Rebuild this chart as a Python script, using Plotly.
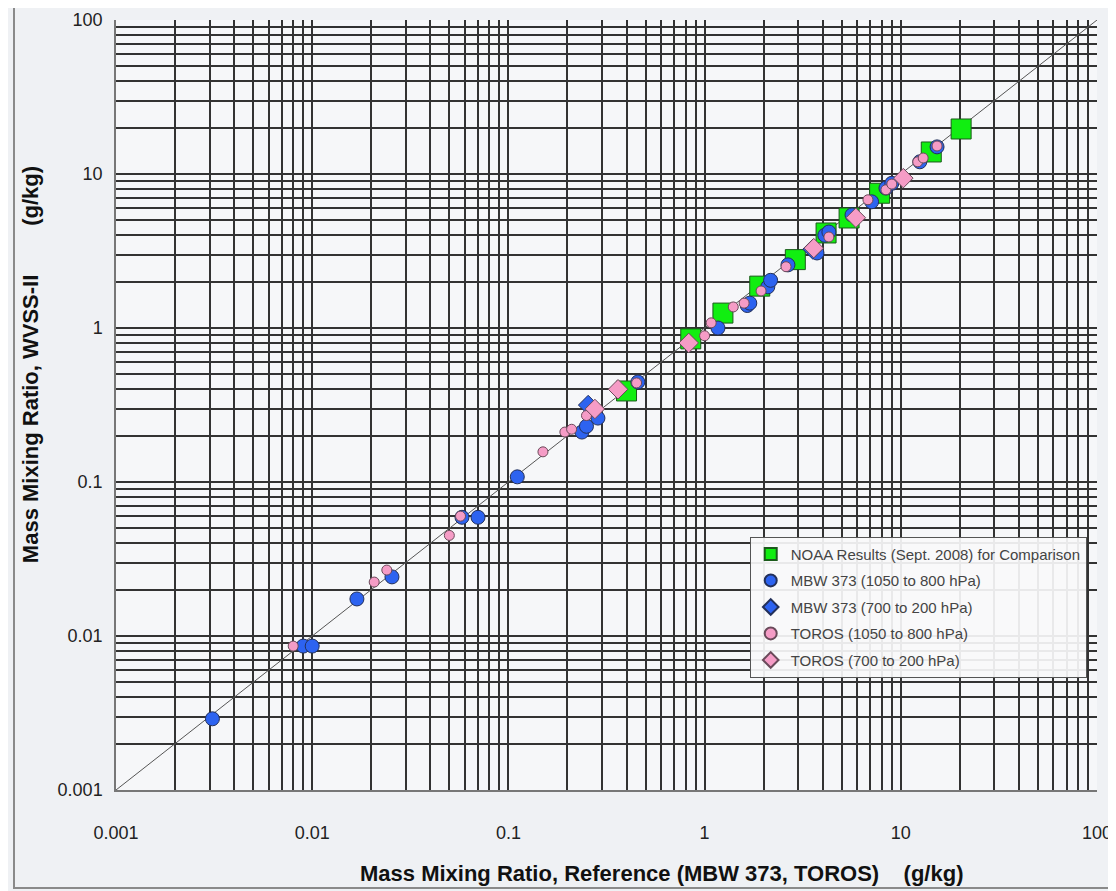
import plotly.graph_objects as go

# ---------------- data ----------------
noaa_x = [0.40, 0.85, 1.24, 1.91, 2.9, 4.16, 5.45, 7.8, 14.3, 20.3]
noaa_y = [0.39, 0.85, 1.25, 1.87, 2.78, 4.14, 5.18, 7.5, 13.9, 19.6]

mbw_low_x = [0.0031, 0.0090, 0.0100, 0.0169, 0.0255, 0.058, 0.070, 0.111, 0.237, 0.25, 0.286,
             0.457, 1.17, 1.65, 1.70, 2.10, 2.17, 2.66, 3.6, 3.74, 4.1, 4.3, 5.64, 7.1, 8.4, 9.0,
             12.5, 15.3]
mbw_low_y = [0.0029, 0.0086, 0.0086, 0.0174, 0.0242, 0.059, 0.059, 0.108, 0.211, 0.23, 0.26,
             0.446, 1.0, 1.40, 1.45, 1.85, 2.04, 2.57, 3.2, 3.07, 4.0, 4.2, 5.42, 6.6, 8.1, 8.7,
             12.0, 15.0]

mbw_high_x = [0.255, 3.55]
mbw_high_y = [0.316, 3.25]

toros_low_x = [0.0080, 0.0207, 0.024, 0.050, 0.057, 0.150, 0.194, 0.21, 0.25, 0.45, 1.0, 1.08,
               1.40, 1.59, 1.94, 2.6, 4.3, 6.8, 8.4, 9.0, 12.2, 13.0, 15.3]
toros_low_y = [0.0086, 0.0224, 0.0268, 0.045, 0.060, 0.157, 0.211, 0.22, 0.27, 0.44, 0.89, 1.08,
               1.37, 1.45, 1.74, 2.5, 3.9, 6.8, 7.9, 8.6, 12.0, 12.7, 15.2]

toros_high_x = [0.276, 0.362, 0.83, 3.6, 5.9, 10.3]
toros_high_y = [0.298, 0.40, 0.80, 3.3, 5.2, 9.4]

one_to_one = [0.001, 100]

decades = [-3, -2, -1, 0, 1]
decade_labels = ["0.001", "0.01", "0.1", "1", "10", "100"]

series_names = [
    "NOAA Results (Sept. 2008) for Comparison",
    "MBW 373 (1050 to 800 hPa)",
    "MBW 373 (700 to 200 hPa)",
    "TOROS (1050 to 800 hPa)",
    "TOROS (700 to 200 hPa)",
]

# ---------------- ticks / grid ----------------
tickvals, ticktext = [], []
for i, n in enumerate(decades):
    for k in range(1, 10):
        tickvals.append(k * 10 ** n)
        ticktext.append(decade_labels[i] if k == 1 else "")
tickvals.append(100)
ticktext.append(decade_labels[-1])

fig = go.Figure()

fig.add_trace(go.Scatter(x=one_to_one, y=one_to_one, mode="lines",
                         line=dict(color="#555555", width=1), showlegend=False,
                         hoverinfo="skip"))

blue = "#2d63f0"
pink = "#f59cc6"
green = "#11ee11"
edge = "#23305a"

fig.add_trace(go.Scatter(x=noaa_x, y=noaa_y, mode="markers", name=series_names[0],
                         legendgroup="g0",
                         marker=dict(symbol="square", size=20, color=green,
                                     line=dict(color="#1b5a1b", width=1))))
fig.add_trace(go.Scatter(x=mbw_low_x, y=mbw_low_y, mode="markers", name=series_names[1],
                         legendgroup="g1",
                         marker=dict(symbol="circle", size=14, color=blue,
                                     line=dict(color=edge, width=1))))
fig.add_trace(go.Scatter(x=mbw_high_x, y=mbw_high_y, mode="markers", name=series_names[2],
                         legendgroup="g2",
                         marker=dict(symbol="diamond", size=15, color=blue,
                                     line=dict(color=edge, width=1))))
fig.add_trace(go.Scatter(x=toros_low_x, y=toros_low_y, mode="markers", name=series_names[3],
                         legendgroup="g3",
                         marker=dict(symbol="circle", size=10, color=pink,
                                     line=dict(color="#6a4a5a", width=1))))
fig.add_trace(go.Scatter(x=toros_high_x, y=toros_high_y, mode="markers", name=series_names[4],
                         legendgroup="g4",
                         marker=dict(symbol="diamond", size=15, color=pink,
                                     line=dict(color="#6a4a5a", width=1))))

axis_common = dict(
    type="log",
    tickmode="array",
    tickvals=tickvals,
    ticktext=ticktext,
    showgrid=True,
    gridcolor="#333333",
    gridwidth=1.6,
    zeroline=False,
    showline=True,
    linecolor="#777777",
    linewidth=1.5,
    ticks="",
    automargin=False,
    tickfont=dict(family="Liberation Sans, Arial", size=18, color="#222222"),
    mirror=False,
)

fig.update_xaxes(range=[-3, 2], ticklabelstandoff=26, **axis_common)
fig.update_yaxes(range=[-3, 2], ticklabelstandoff=8, **axis_common)

gap = "\u00a0" * 8

# the page adds an 8px body margin, so the figure is made 8px smaller
fig.update_layout(
    width=1108, height=883,
    margin=dict(l=108, r=19, t=12, b=101, autoexpand=False),
    paper_bgcolor="#eff1f4",
    plot_bgcolor="#f6f7f9",
    showlegend=True,
    legend=dict(
        x=0.646, y=0.329, xanchor="left", yanchor="top",
        bgcolor="rgba(248,249,250,0.92)", bordercolor="#555555", borderwidth=1,
        font=dict(family="Liberation Sans, Arial", size=15, color="#444444"),
        itemsizing="constant", tracegroupgap=4, itemwidth=30,
    ),
    font=dict(family="Liberation Sans, Arial"),
    annotations=[
        dict(text="<b>Mass Mixing Ratio, Reference (MBW 373, TOROS)\u00a0\u00a0\u00a0\u00a0(g/kg)</b>",
             xref="paper", yref="paper", x=0.556, y=-0.109, showarrow=False,
             xanchor="center", yanchor="middle",
             font=dict(family="Liberation Sans, Arial", size=22, color="#111111")),
        dict(text="<b>Mass Mixing Ratio, WVSS-II" + gap + "(g/kg)</b>",
             xref="paper", yref="paper", x=-0.0877, y=0.553, showarrow=False,
             textangle=-90, xanchor="center", yanchor="middle",
             font=dict(family="Liberation Sans, Arial", size=22, color="#111111")),
    ],
    shapes=[
        dict(type="rect", xref="paper", yref="paper",
             x0=(14 - 116) / 981, x1=(1130 - 116) / 981,
             y0=(790 - 888) / 770, y1=(790 - 6) / 770,
             line=dict(color="#8a8a8a", width=2), layer="below"),
    ],
)

fig.write_html("out.html")
